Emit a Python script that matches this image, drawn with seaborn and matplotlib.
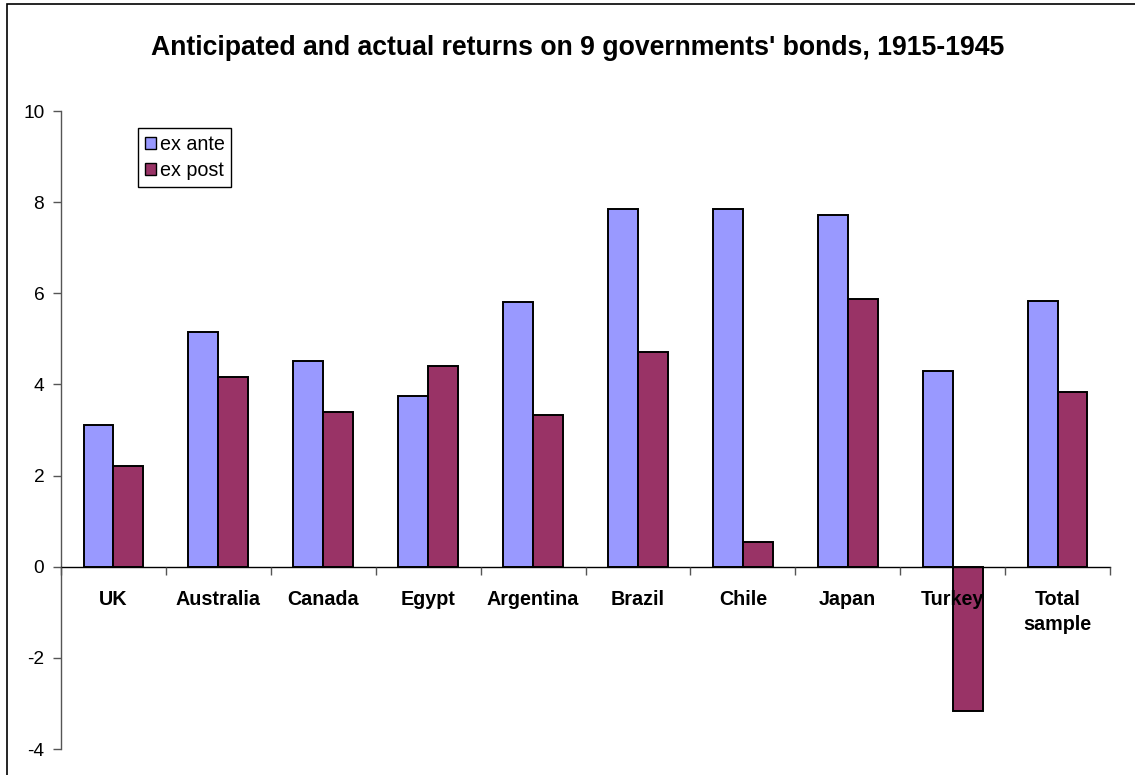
import matplotlib
matplotlib.use("Agg")
import matplotlib.pyplot as plt
from matplotlib.patches import Rectangle
from matplotlib.ticker import FixedLocator
import numpy as np
import pandas as pd
import seaborn as sns

# Returns (%) on government bonds, 1915-1945
countries = ["UK", "Australia", "Canada", "Egypt", "Argentina", "Brazil",
             "Chile", "Japan", "Turkey", "Total\nsample"]
ex_ante = [3.11, 5.15, 4.52, 3.75, 5.80, 7.84, 7.85, 7.71, 4.30, 5.82]
ex_post = [2.22, 4.17, 3.40, 4.41, 3.34, 4.71, 0.54, 5.88, -3.16, 3.84]
series_names = ["ex ante", "ex post"]
series_colors = ["#9999FF", "#993366"]
y_ticks = [-4, -2, 0, 2, 4, 6, 8, 10]

df = pd.DataFrame({
    "country": countries * 2,
    "series": [series_names[0]] * len(countries) + [series_names[1]] * len(countries),
    "value": ex_ante + ex_post,
})

sns.set_style("white")
plt.rcParams["font.family"] = ["Liberation Sans", "DejaVu Sans"]
plt.rcParams["axes.unicode_minus"] = False
plt.rcParams["text.color"] = "black"
plt.rcParams["xtick.color"] = "black"
plt.rcParams["ytick.color"] = "black"
plt.rcParams["axes.labelcolor"] = "black"

W, H = 1135, 775
fig = plt.figure(figsize=(W / 100, H / 100), dpi=100)
ax = fig.add_axes([61 / W, 1 - 749 / H, (1110 - 61) / W, (749 - 111) / H])

sns.barplot(data=df, x="country", y="value", hue="series",
            order=countries, hue_order=series_names,
            palette=series_colors, width=0.57, dodge=True,
            edgecolor="black", linewidth=1.4, saturation=1, ax=ax)

ax.set_ylim(-4, 10)
ax.set_xlim(-0.5, len(countries) - 0.5)
ax.set_xlabel("")
ax.set_ylabel("")
ax.set_axisbelow(False)

# y axis on the left, category axis along the zero line
for side in ["top", "right"]:
    ax.spines[side].set_visible(False)
ax.spines["left"].set_color("#555555")
ax.spines["left"].set_linewidth(1.0)
ax.spines["bottom"].set_position(("data", 0))
ax.spines["bottom"].set_color("black")
ax.spines["bottom"].set_linewidth(1.0)

ax.set_yticks(y_ticks)
ax.set_yticklabels([str(t) for t in y_ticks])
ax.tick_params(axis="y", direction="out", length=6, width=1, color="#555555",
               labelsize=13.8, labelcolor="black", pad=6, left=True)

# category labels under the zero line, ticks between categories
ax.set_xticks(range(len(countries)))
ax.set_xticklabels(countries, fontweight="bold", fontsize=14.2, linespacing=1.4)
ax.tick_params(axis="x", which="major", length=0, pad=16.5, labelcolor="black")
ax.xaxis.set_minor_locator(FixedLocator(np.arange(-0.5, len(countries), 1.0)))
ax.tick_params(axis="x", which="minor", direction="out", length=6, width=1,
               color="#555555", bottom=True)
for lbl in ax.get_xticklabels():
    lbl.set_verticalalignment("top")
    lbl.set_zorder(5)

ax.grid(False)

leg = ax.legend(loc="upper left", bbox_to_anchor=((138 - 61) / 1049, (749 - 128) / 638),
                borderaxespad=0, frameon=True, fancybox=False, fontsize=14.2,
                handlelength=0.55, handleheight=0.55, handletextpad=0.2,
                labelspacing=0.35, borderpad=0.35, title=None)
leg.get_frame().set_edgecolor("black")
leg.get_frame().set_linewidth(1.0)
leg.get_frame().set_alpha(1)
for h in leg.legend_handles:
    h.set_edgecolor("black")
    h.set_linewidth(1.0)

fig.text(578 / W, 1 - 48 / H,
         "Anticipated and actual returns on 9 governments' bonds, 1915-1945",
         ha="center", va="center", fontsize=19.2, fontweight="bold")

# chart area frame
fig.patches.append(Rectangle((7 / W, -0.1), 1.2, 1 - 4 / H + 0.1,
                             transform=fig.transFigure, fill=False,
                             edgecolor="black", linewidth=1.2))

fig.savefig("out.png", dpi=100)
